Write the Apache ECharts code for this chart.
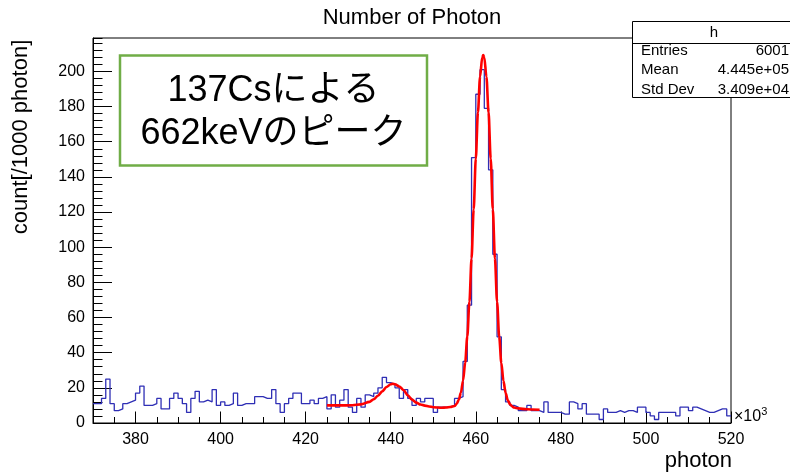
<!DOCTYPE html>
<html>
<head>
<meta charset="utf-8">
<script src="https://cdn.jsdelivr.net/npm/echarts@6/dist/echarts.min.js"></script>
<style>
	html, body { margin: 0; padding: 0; background: #fff; }
	#chart { width: 790px; height: 472px; }
</style>
</head>
<body>
<div id="chart"></div>
<script>
// histogram: 1 bin = 1000 photon, first bin starts at 370 (x10^3)
const binStart = 370;
const binWidth = 1;
const counts = [
	11, 11, 14, 25, 11, 7, 8, 11, 12, 13, 17, 21, 10, 10, 11, 14, 8, 8, 14, 17,
	14, 11, 6, 14, 18, 12, 13, 12, 19, 10, 12, 10, 11, 17, 10, 11, 11, 11, 15, 15,
	14, 14, 19, 11, 6, 11, 14, 17, 17, 11, 11, 13, 11, 14, 15, 8, 16, 9, 13, 19,
	9, 6, 14, 9, 16, 15, 17, 20, 26, 23, 22, 20, 14, 19, 14, 10, 14, 12, 14, 14,
	6, 9, 9, 9, 10, 14, 15, 35, 67, 151, 187, 201, 179, 144, 96, 49, 19, 12, 10, 9,
	7, 7, 10, 7, 7, 6, 12, 6, 6, 6, 5, 5, 12, 11, 8, 11, 5, 5, 5, 2,
	8, 6, 6, 7, 6, 7, 7, 6, 9, 9, 6, 4, 2, 6, 6, 6, 6, 4, 9, 9,
	7, 9, 8, 7, 6, 6, 7, 8, 8, 4
];

// fit curve (red)
const fitX = [
	425, 428, 431, 433, 435, 436, 437, 438, 439, 440, 440.5, 441, 442, 443, 444, 445, 446, 447, 448, 449,
	450, 452, 453, 454, 455, 455.5, 456, 456.5, 457, 457.5, 458, 458.5, 459, 459.5, 460, 460.5, 461, 461.5,
	461.75, 462, 462.5, 463, 463.5, 464, 464.5, 465, 465.5, 466, 466.5, 467, 467.5, 468, 468.5, 469, 470,
	472, 475
];
const fitY = [
	10.0, 10.0, 10.1, 10.6, 12.0, 13.5, 15.5, 18.0, 20.5, 22.0, 22.3, 22.0, 20.8, 18.8, 15.8, 13.3, 11.6, 10.5, 9.9, 9.4,
	9.0, 8.7, 8.8, 9.1, 9.7, 10.9, 13.2, 17.3, 24.0, 34.3, 49.2, 69.0, 93.6, 121.5, 150.4, 176.7, 196.9, 207.9,
	209.3, 207.9, 196.9, 176.7, 150.4, 121.5, 93.5, 69.0, 49.1, 34.2, 24.0, 17.2, 13.1, 10.8, 9.5, 8.8, 8.3,
	7.8, 7.5
];

const xTickValues = [380, 400, 420, 440, 460, 480, 500, 520];
const yTickValues = [0, 20, 40, 60, 80, 100, 120, 140, 160, 180, 200];
const statRows = [["Entries", "6001"], ["Mean", "4.445e+05"], ["Std Dev", "3.409e+04"]];
const noteLines = ["137Csによる", "662keVのピーク"];

const FONT = "Liberation Sans, Arial, Helvetica, sans-serif";

function init() {
	var myChart = echarts.init(document.getElementById("chart"), null, {
		renderer: "canvas"
	});

	var histData = counts.map(function (c, i) {
		return [binStart + i * binWidth, c];
	});
	histData.push([binStart + counts.length * binWidth, counts[counts.length - 1]]);

	var fitData = fitX.map(function (x, i) {
		return [x, fitY[i]];
	});

	var xMin = binStart;
	var xMax = binStart + counts.length * binWidth;

	var graphics = [
		// 標題
		{
			type: "text", x: 412, y: 18,
			style: { text: "Number of Photon", font: "22px " + FONT, fill: "#000", align: "center", verticalAlign: "middle" }
		},
		{
			type: "text", x: 21, y: 137, rotation: Math.PI / 2,
			style: { text: "count[/1000 photon]", font: "22px " + FONT, fill: "#000", align: "center", verticalAlign: "middle" }
		},
		{
			type: "text", x: 732, y: 461,
			style: { text: "photon", font: "22px " + FONT, fill: "#000", align: "right", verticalAlign: "middle" }
		},
		{
			type: "text", x: 734, y: 417,
			style: {
				text: "{a|×10}{b|3}",
				verticalAlign: "middle",
				rich: {
					a: { font: "16px " + FONT, fill: "#000" },
					b: { font: "11px " + FONT, fill: "#000", padding: [0, 0, 10, 0] }
				}
			}
		},
		// stats box
		{
			type: "rect", z: 50,
			shape: { x: 632.5, y: 21.5, width: 170, height: 76 },
			style: { fill: "#fff", stroke: "#000", lineWidth: 1 }
		},
		{
			type: "line", z: 51,
			shape: { x1: 632.5, y1: 43.5, x2: 790, y2: 43.5 },
			style: { stroke: "#000", lineWidth: 1 }
		},
		{
			type: "text", z: 52, x: 714, y: 33,
			style: { text: "h", font: "15px " + FONT, fill: "#000", align: "center", verticalAlign: "middle" }
		},
		// 註解框
		{
			type: "rect", z: 50,
			shape: { x: 120, y: 55.5, width: 307, height: 110 },
			style: { fill: "#fff", stroke: "#70ad47", lineWidth: 2.5 }
		}
	];
	statRows.forEach(function (row, i) {
		graphics.push({
			type: "text", z: 52, x: 641, y: 51 + i * 19.3,
			style: { text: row[0], font: "15px " + FONT, fill: "#000", align: "left", verticalAlign: "middle" }
		});
		graphics.push({
			type: "text", z: 52, x: 789, y: 51 + i * 19.3,
			style: { text: row[1], font: "15px " + FONT, fill: "#000", align: "right", verticalAlign: "middle" }
		});
	});
	noteLines.forEach(function (t, i) {
		graphics.push({
			type: "text", z: 52, x: 273.5, y: 91 + i * 43,
			style: { text: t, font: "36px Liberation Sans, 'Noto Sans CJK JP', sans-serif", fill: "#000", align: "center", verticalAlign: "middle" }
		});
	});

	var option = {
		animation: false,
		backgroundColor: "#fff",
		grid: {
			left: 93, right: 59, top: 38, bottom: 49,
			show: true,
			borderColor: "#000",
			borderWidth: 1
		},
		xAxis: [
			{
				type: "value", min: xMin, max: xMax, interval: 5,
				axisLine: { show: true, lineStyle: { color: "#000", width: 1 } },
				axisTick: { show: true, inside: true, length: 6, lineStyle: { color: "#000" } },
				axisLabel: {
					customValues: xTickValues,
					formatter: function (v) { return v % 20 === 0 && v > xMin ? String(v) : ""; },
					fontFamily: FONT, fontSize: 16, color: "#000", margin: 9
				},
				splitLine: { show: false }
			},
			{
				type: "value", min: xMin, max: xMax, position: "bottom",
				axisLine: { show: false },
				axisTick: { show: true, inside: true, length: 11.5, customValues: xTickValues, lineStyle: { color: "#000" } },
				axisLabel: { show: false },
				splitLine: { show: false }
			}
		],
		yAxis: [
			{
				type: "value", min: 0, max: 219, interval: 4,
				axisLine: { show: true, lineStyle: { color: "#000", width: 1 } },
				axisTick: { show: true, inside: true, length: 9.5, lineStyle: { color: "#000" } },
				axisLabel: {
					customValues: yTickValues,
					formatter: function (v) { return v % 20 === 0 ? String(v) : ""; },
					fontFamily: FONT, fontSize: 16, color: "#000", margin: 8
				},
				splitLine: { show: false }
			},
			{
				type: "value", min: 0, max: 219, position: "left",
				axisLine: { show: false },
				axisTick: { show: true, inside: true, length: 19, customValues: yTickValues, lineStyle: { color: "#000" } },
				axisLabel: { show: false },
				splitLine: { show: false }
			}
		],
		series: [
			{
				name: "h",
				type: "line",
				step: "end",
				data: histData,
				symbol: "none",
				clip: true,
				lineStyle: { color: "#2f2fb5", width: 1.3 }
			},
			{
				name: "fit",
				type: "line",
				data: fitData,
				symbol: "none",
				smooth: 0.3,
				smoothMonotone: "x",
				lineStyle: { color: "#ff0000", width: 2.6 }
			}
		],
		graphic: graphics
	};
	myChart.setOption(option);
	window.addEventListener("resize", myChart.resize);
}
init();
</script>
</body>
</html>
